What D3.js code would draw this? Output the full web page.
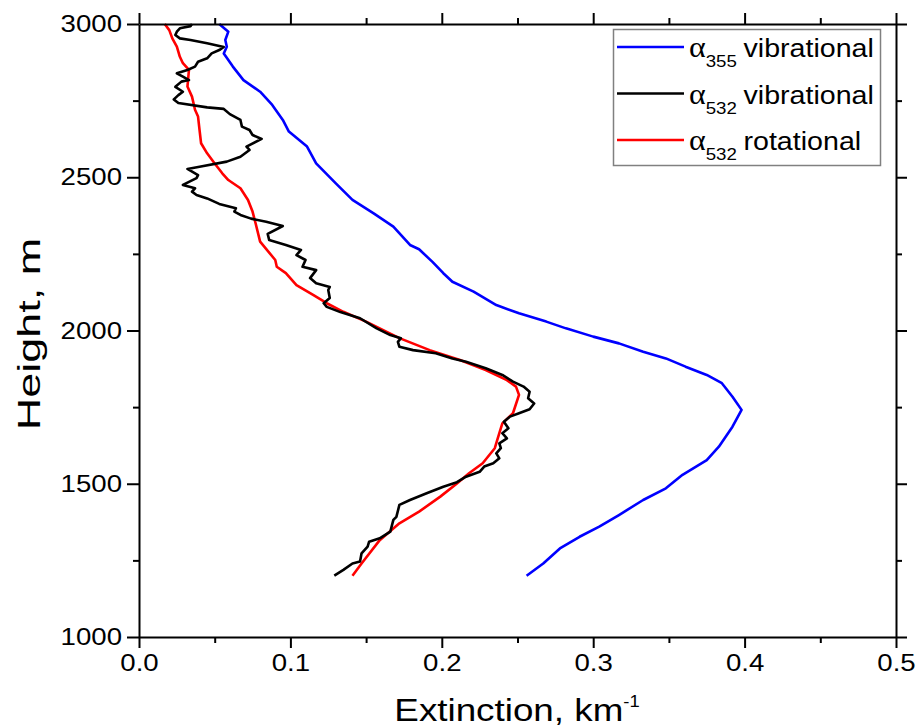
<!DOCTYPE html>
<html>
<head>
<meta charset="utf-8">
<script src="https://cdn.jsdelivr.net/npm/d3@7"></script>
<style>
body { margin: 0; background: #fff; }
text { font-family: Arial, "Liberation Sans", sans-serif; fill: #000; }
</style>
</head>
<body>
<script>
// Extinction profiles
const width = 916;
const height = 726;
const margin = {top: 24, right: 19, bottom: 89, left: 139};
const stretch = 1.15;   // glyphs in the original are a bit wide

const xTicks = [0, 0.1, 0.2, 0.3, 0.4, 0.5];
const xMinor = [0.05, 0.15, 0.25, 0.35, 0.45];
const yTicks = [1000, 1500, 2000, 2500, 3000];
const yMinor = [1250, 1750, 2250, 2750];

// alpha 355 vibrational
const h355 = [1200,1240,1289,1327,1360,1398,1447,1485,1529,1577,1621,1686,1741,1784,1828,1855,1882,1909,1931,1958,1980,2007,2029,2056,2083,2127,2159,2187,2223,2265,2279,2339,2382,2426,2480,2545,2600,2649,2687,2736,2779,2817,2861,2904,2926,2948,2975,3000];
const ext355 = [0.256,0.267,0.278,0.291,0.304,0.317,0.333,0.348,0.359,0.375,0.383,0.392,0.398,0.392,0.385,0.375,0.361,0.348,0.333,0.317,0.300,0.282,0.269,0.251,0.236,0.221,0.207,0.201,0.194,0.185,0.179,0.168,0.155,0.141,0.130,0.117,0.111,0.099,0.095,0.088,0.080,0.069,0.062,0.056,0.058,0.057,0.059,0.053];

// alpha 532 vibrational
const h532v = [1200,1219,1240,1246,1273,1295,1311,1322,1344,1382,
	1392,1431,1447,1469,1490,1505,1523,1539,1556,1567,
	1583,1599,1616,1632,1648,1665,1681,1702,1719,1730,
	1743,1762,1779,1800,1817,1833,1855,1877,1898,1909,
	1926,1936,1947,1963,1975,1985,2007,2040,2060,2077,
	2089,2106,2132,2142,2154,2171,2197,2208,2230,2246,
	2263,2279,2295,2315,2341,2355,2365,2377,2388,2399,
	2413,2431,2442,2453,2464,2475,2497,2507,2527,2534,
	2551,2567,2589,2600,2625,2638,2654,2665,2687,2706,
	2723,2728,2742,2754,2768,2779,2795,2812,2817,2828,
	2839,2850,2861,2877,2888,2904,2915,2925,2937,2948,
	2953,2964,2975,2986,2993,3000];
const ext532v = [0.129,0.135,0.141,0.146,0.147,0.151,0.152,0.159,0.166,0.168,
	0.170,0.172,0.179,0.190,0.201,0.210,0.216,0.225,0.228,0.234,
	0.238,0.236,0.239,0.238,0.243,0.240,0.244,0.241,0.245,0.251,
	0.258,0.261,0.257,0.258,0.254,0.247,0.240,0.229,0.216,0.207,
	0.196,0.181,0.172,0.171,0.173,0.166,0.157,0.146,0.133,0.124,
	0.122,0.126,0.125,0.126,0.117,0.113,0.117,0.108,0.110,0.104,
	0.107,0.097,0.086,0.085,0.095,0.084,0.074,0.067,0.063,0.064,
	0.053,0.045,0.038,0.035,0.037,0.029,0.038,0.039,0.032,0.040,
	0.058,0.067,0.073,0.071,0.081,0.075,0.073,0.068,0.067,0.060,
	0.056,0.045,0.026,0.023,0.026,0.029,0.024,0.028,0.033,0.029,
	0.025,0.032,0.037,0.039,0.045,0.048,0.053,0.056,0.045,0.034,
	0.027,0.024,0.025,0.027,0.034,0.035];

// alpha 532 rotational
const h532r = [1200,1240,1316,1371,1409,1458,1501,1534,1567,1616,1665,1697,1730,1790,1817,1838,1871,1904,1936,1975,2029,2061,2089,2116,2148,2187,2208,2230,2290,2350,2388,2426,2464,2491,2513,2545,2578,2611,2654,2698,2720,2763,2796,2850,2872,2893,2926,2953,2980,3000];
const ext532r = [0.141,0.147,0.159,0.172,0.185,0.199,0.210,0.218,0.227,0.235,0.238,0.240,0.247,0.251,0.249,0.243,0.229,0.212,0.192,0.172,0.150,0.135,0.124,0.115,0.104,0.097,0.091,0.090,0.080,0.077,0.075,0.072,0.067,0.059,0.055,0.050,0.045,0.041,0.040,0.039,0.037,0.035,0.032,0.033,0.029,0.027,0.025,0.022,0.020,0.017];

const series = [
	{sub: '355', word: 'vibrational', color: '#0000ff', h: h355, v: ext355},
	{sub: '532', word: 'vibrational', color: '#000000', h: h532v, v: ext532v},
	{sub: '532', word: 'rotational', color: '#ff0000', h: h532r, v: ext532r}
];

const svg = d3.select('body')
	.append('svg')
	.attr('width', width)
	.attr('height', height);

let xScale = d3.scaleLinear()
	.domain([0, 0.5])
	.range([margin.left, width - margin.right - 1]);

let yScale = d3.scaleLinear()
	.domain([1000, 3000])
	.range([height - margin.bottom, margin.top]);

function styleAxis(g) {
	g.selectAll('path, line').attr('stroke', '#000').attr('stroke-width', 2);
	g.selectAll('text').style('font-size', '24px').attr('fill', '#000');
}

// lines (drawn under the axes)
let line = d3.line();
series.slice().reverse().forEach(s => {
	const pts = s.h.map((h, i) => [xScale(s.v[i]), yScale(h)]);
	svg.append('path')
		.attr('d', line(pts))
		.attr('fill', 'none')
		.attr('stroke', s.color)
		.attr('stroke-width', 2.6)
		.attr('stroke-linejoin', 'round');
});

const yBottom = height - margin.bottom;
const yTop = margin.top;

// bottom axis
svg.append('g')
	.attr('transform', `translate(0, ${yBottom})`)
	.call(d3.axisBottom(xScale).tickValues(xTicks).tickFormat(d3.format('.1f')).tickSize(11).tickSizeOuter(0).tickPadding(6))
	.call(styleAxis)
	.call(g => g.selectAll('text').attr('transform', `scale(${stretch},1)`));
svg.append('g')
	.attr('transform', `translate(0, ${yBottom})`)
	.call(d3.axisBottom(xScale).tickValues(xMinor).tickFormat('').tickSize(6))
	.call(g => g.select('.domain').remove())
	.call(styleAxis);

// top axis
svg.append('g')
	.attr('transform', `translate(0, ${yTop})`)
	.call(d3.axisTop(xScale).tickValues(xTicks).tickFormat('').tickSize(11).tickSizeOuter(0))
	.call(styleAxis);
svg.append('g')
	.attr('transform', `translate(0, ${yTop})`)
	.call(d3.axisTop(xScale).tickValues(xMinor).tickFormat('').tickSize(6))
	.call(g => g.select('.domain').remove())
	.call(styleAxis);

// left axis
svg.append('g')
	.attr('transform', `translate(${margin.left}, 0)`)
	.call(d3.axisLeft(yScale).tickValues(yTicks).tickFormat(d3.format('d')).tickSize(12).tickSizeOuter(0).tickPadding(5))
	.call(styleAxis)
	.call(g => g.selectAll('text').attr('x', -17 / stretch).attr('transform', `scale(${stretch},1)`));
svg.append('g')
	.attr('transform', `translate(${margin.left}, 0)`)
	.call(d3.axisLeft(yScale).tickValues(yMinor).tickFormat('').tickSize(6))
	.call(g => g.select('.domain').remove())
	.call(styleAxis);

// right axis
const xr = xScale(0.5);
svg.append('g')
	.attr('transform', `translate(${xr}, 0)`)
	.call(d3.axisRight(yScale).tickValues(yTicks).tickFormat('').tickSize(11).tickSizeOuter(0))
	.call(styleAxis);
svg.append('g')
	.attr('transform', `translate(${xr}, 0)`)
	.call(d3.axisRight(yScale).tickValues(yMinor).tickFormat('').tickSize(6))
	.call(g => g.select('.domain').remove())
	.call(styleAxis);

// axis titles
let xt = svg.append('g')
	.attr('transform', `translate(517, 721) scale(${stretch},1)`)
	.append('text')
	.attr('text-anchor', 'middle')
	.style('font-size', '32px');
xt.append('tspan').text('Extinction, km');
xt.append('tspan').attr('dy', -14).style('font-size', '16px').text('-1');

svg.append('g')
	.attr('transform', 'translate(40, 334) rotate(-90) scale(1.45,1)')
	.append('text')
	.attr('text-anchor', 'middle')
	.style('font-size', '31px')
	.text('Height, m');

// legend
const legend = svg.append('g');
legend.append('rect')
	.attr('x', 613.5).attr('y', 29.5)
	.attr('width', 267).attr('height', 136)
	.attr('fill', '#fff')
	.attr('stroke', '#808080')
	.attr('stroke-width', 1.5);

series.forEach((s, i) => {
	const y = 47 + i * 46.5;
	legend.append('line')
		.attr('x1', 617).attr('x2', 684)
		.attr('y1', y).attr('y2', y)
		.attr('stroke', s.color)
		.attr('stroke-width', 2.6);
	let t = legend.append('g')
		.attr('transform', `translate(689, ${y + 10}) scale(1.1,1)`)
		.append('text')
		.style('font-size', '26px');
	t.append('tspan').style('font-family', '"Liberation Serif", serif').style('font-size', '29px').text('α');
	t.append('tspan').attr('dy', 10).style('font-size', '17px').text(s.sub);
	t.append('tspan').attr('dy', -10).attr('dx', 6).text(s.word);
});
</script>
</body>
</html>
